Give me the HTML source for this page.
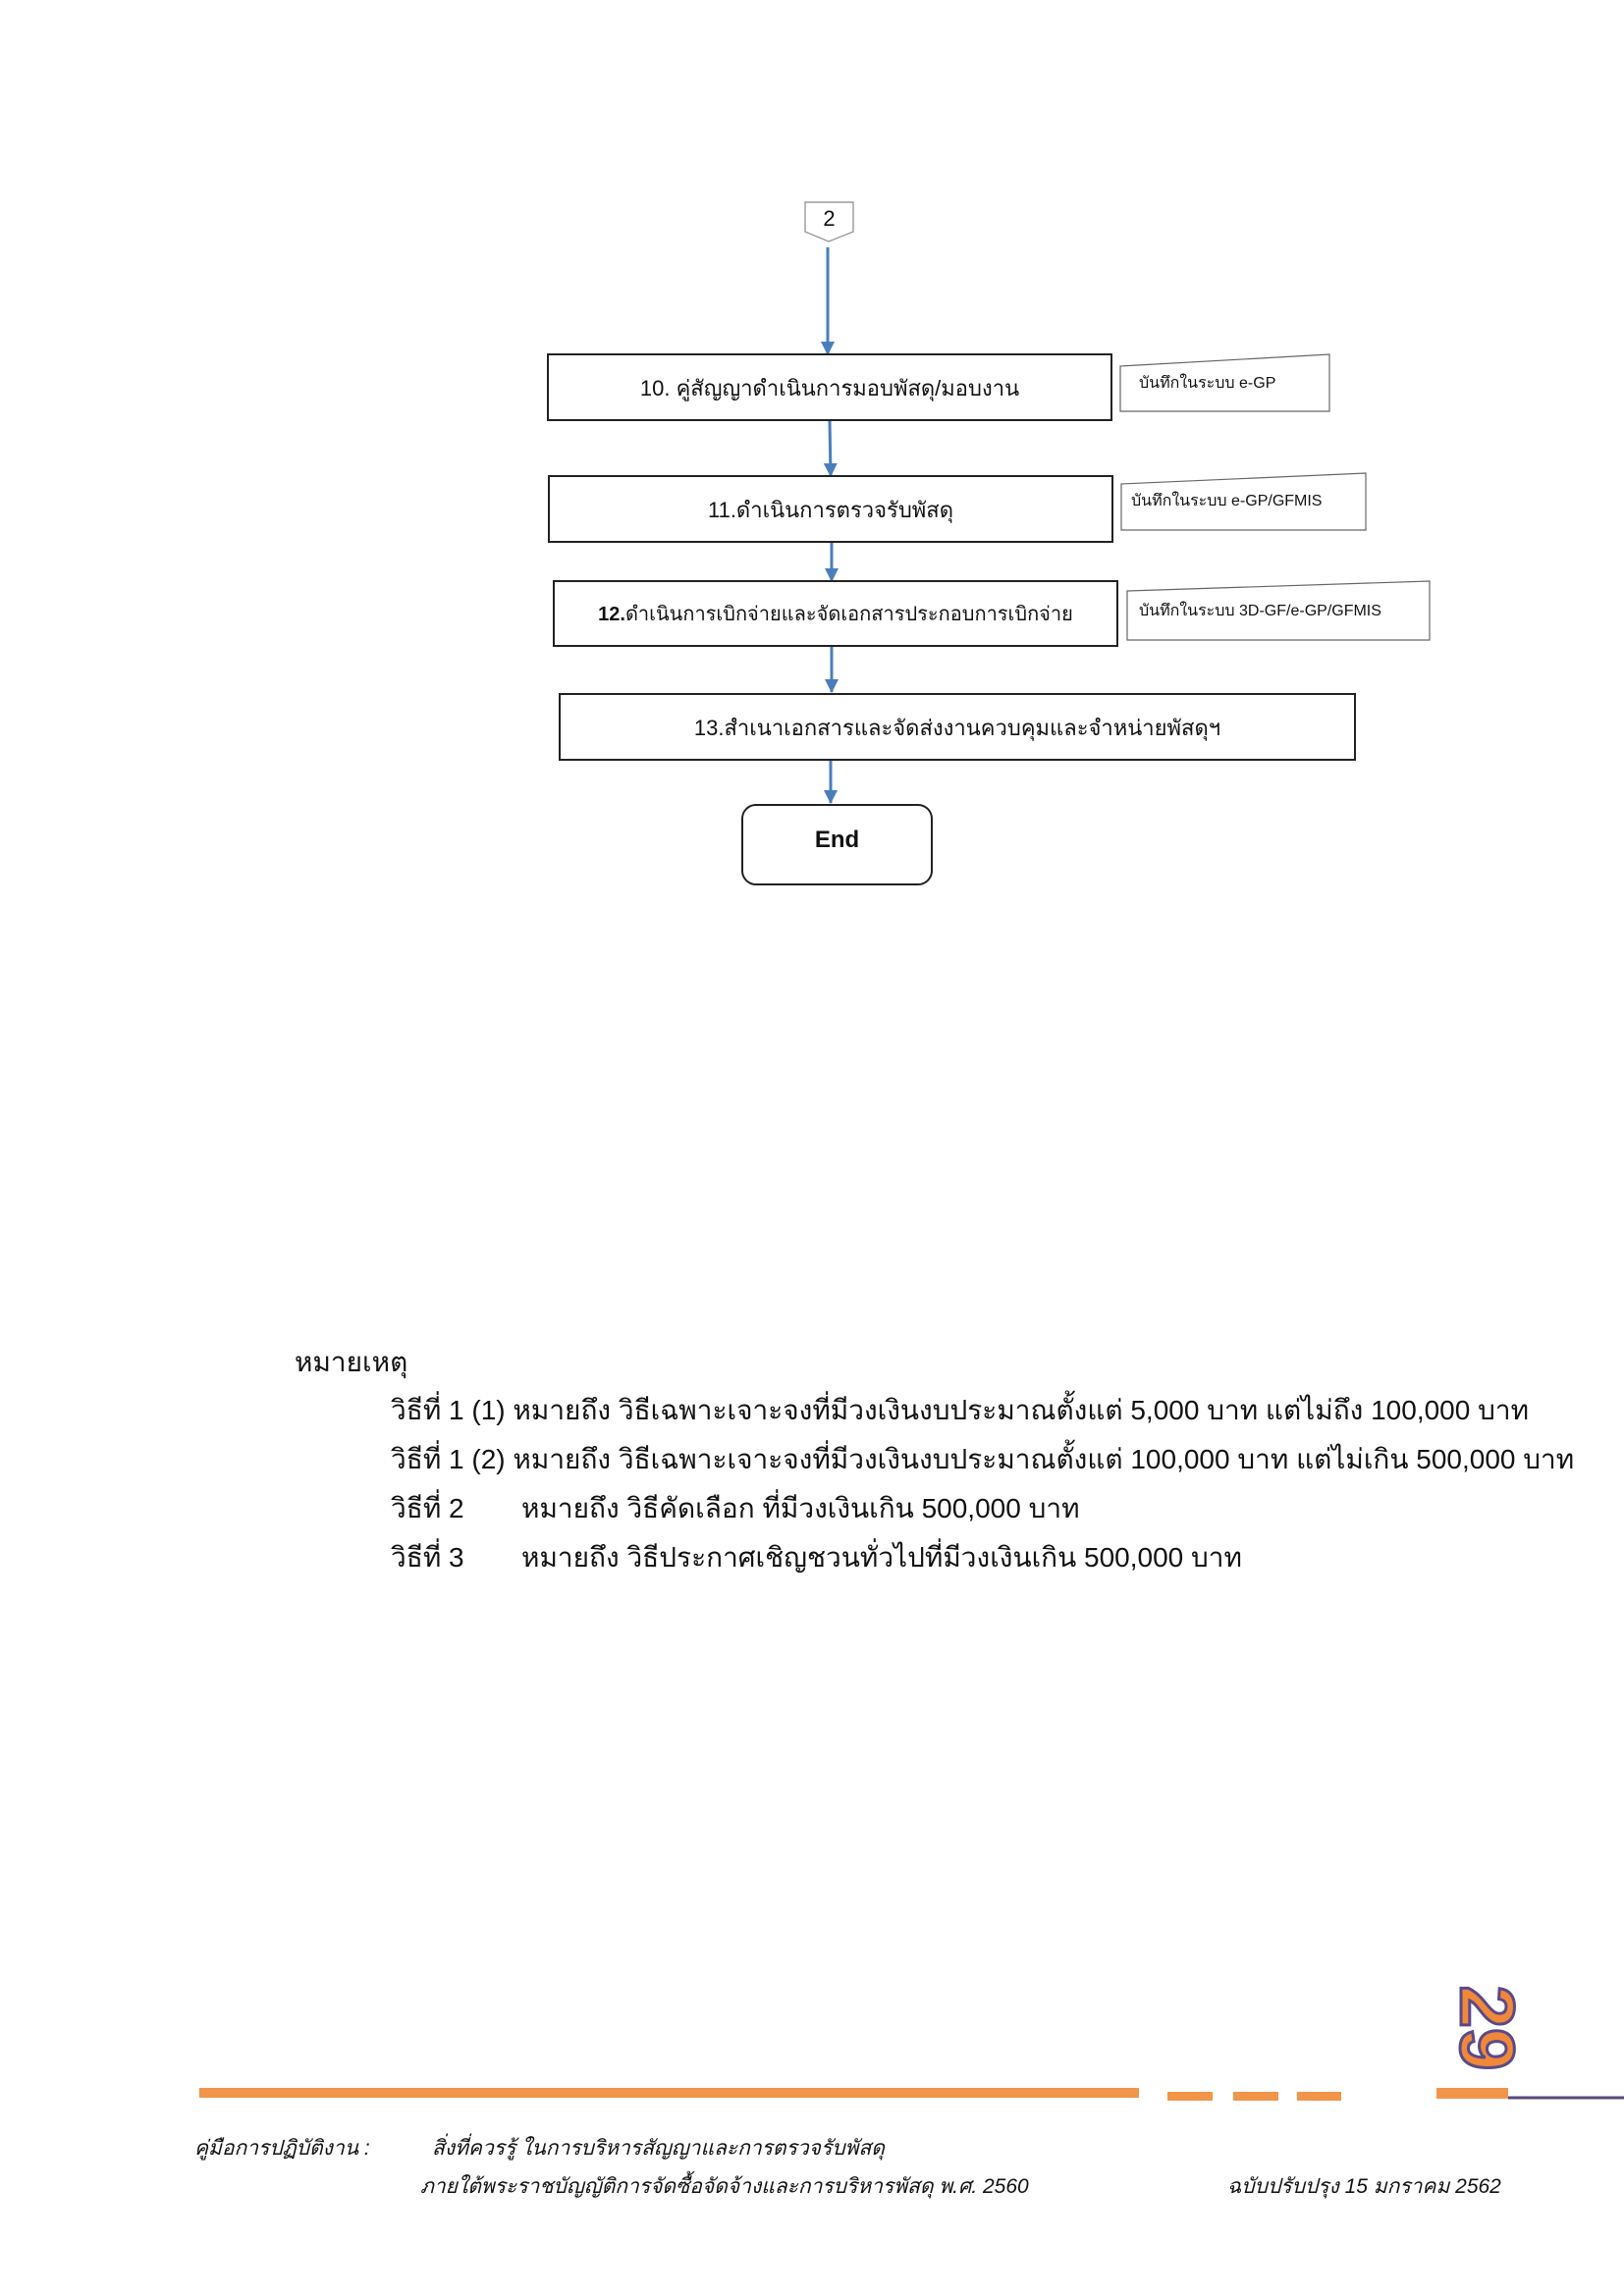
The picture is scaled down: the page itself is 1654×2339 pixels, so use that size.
<!DOCTYPE html>
<html><head><meta charset="utf-8"><style>
body{margin:0;background:#fff;}
.page{position:relative;width:1654px;height:2339px;overflow:hidden;font-family:"Liberation Sans","Noto Sans CJK SC",sans-serif;color:#111;}
.t{position:absolute;white-space:nowrap;font-family:"Liberation Sans","Noto Sans CJK SC",sans-serif;}
.f{font-style:italic;font-size:21px;}
</style></head><body><div class="page">
<svg width="1654" height="2339" style="position:absolute;left:0;top:0">
<defs><marker id="a" markerWidth="14" markerHeight="14" refX="13" refY="7" orient="auto" markerUnits="userSpaceOnUse"><path d="M0,0 L14,7 L0,14 z" fill="#4a7ebb"/></marker></defs>
<polygon points="820,206 869,206 869,236 844,246 820,236" fill="#fff" stroke="#888" stroke-width="1.2"/>
<g stroke="#4a7ebb" stroke-width="3">
<line x1="843" y1="252" x2="843" y2="361" marker-end="url(#a)"/>
<line x1="845" y1="428" x2="846" y2="485" marker-end="url(#a)"/>
<line x1="847" y1="552" x2="847" y2="592" marker-end="url(#a)"/>
<line x1="847" y1="658" x2="847" y2="705" marker-end="url(#a)"/>
<line x1="846" y1="774" x2="846" y2="818" marker-end="url(#a)"/>
</g>
<g fill="#fff" stroke="#222" stroke-width="2">
<rect x="558" y="361" width="574" height="67"/>
<rect x="559" y="485" width="574" height="67"/>
<rect x="564" y="592" width="574" height="66"/>
<rect x="570" y="707" width="810" height="67"/>
<rect x="756" y="820" width="193" height="81" rx="14"/>
</g>
<g fill="#fff" stroke="#666" stroke-width="1.2">
<polygon points="1141,373 1354,361 1354,419 1141,419"/>
<polygon points="1142,493 1391,482 1391,540 1142,540"/>
<polygon points="1148,602 1456,592 1456,652 1148,652"/>
</g>
<rect x="203" y="2127" width="957" height="10" fill="#f0954a"/>
<rect x="1189" y="2131" width="46" height="9" fill="#f0954a"/>
<rect x="1256" y="2131" width="46" height="9" fill="#f0954a"/>
<rect x="1321" y="2131" width="45" height="9" fill="#f0954a"/>
<rect x="1463" y="2127" width="73" height="11" fill="#f0954a"/>
<line x1="1536" y1="2137" x2="1654" y2="2137" stroke="#5a4a7a" stroke-width="3"/>
<text x="0" y="0" transform="translate(1515,2066) rotate(90)" text-anchor="middle" dominant-baseline="central" font-family="Liberation Sans" font-weight="bold" font-size="78" fill="#f0883a" stroke="#5a4a8a" stroke-width="3">29</text>
</svg>
<div class="t" style="left:820px;top:210px;width:49px;text-align:center;font-size:22px">2</div>
<div class="t" style="left:558px;top:378px;width:574px;text-align:center;font-size:22px">10. คู่สัญญาดำเนินการมอบพัสดุ/มอบงาน</div>
<div class="t" style="left:559px;top:502px;width:574px;text-align:center;font-size:22px">11.ดำเนินการตรวจรับพัสดุ</div>
<div class="t" style="left:564px;top:609px;width:574px;text-align:center;font-size:20px"><b>12.</b>ดำเนินการเบิกจ่ายและจัดเอกสารประกอบการเบิกจ่าย</div>
<div class="t" style="left:570px;top:724px;width:810px;text-align:center;font-size:22px">13.สำเนาเอกสารและจัดส่งงานควบคุมและจำหน่ายพัสดุฯ</div>
<div class="t" style="left:756px;top:842px;width:193px;text-align:center;font-size:24px;font-weight:bold">End</div>
<div class="t" style="left:1160px;top:378px;font-size:16px">บันทึกในระบบ e-GP</div>
<div class="t" style="left:1152px;top:498px;font-size:16px">บันทึกในระบบ e-GP/GFMIS</div>
<div class="t" style="left:1160px;top:610px;font-size:16px">บันทึกในระบบ 3D-GF/e-GP/GFMIS</div>
<div class="t" style="left:300px;top:1366px;font-size:28px">หมายเหตุ</div>
<div class="t" style="left:398px;top:1415px;font-size:28px">วิธีที่ 1 (1) หมายถึง วิธีเฉพาะเจาะจงที่มีวงเงินงบประมาณตั้งแต่ 5,000 บาท แต่ไม่ถึง 100,000 บาท</div>
<div class="t" style="left:398px;top:1465px;font-size:28px">วิธีที่ 1 (2) หมายถึง วิธีเฉพาะเจาะจงที่มีวงเงินงบประมาณตั้งแต่ 100,000 บาท แต่ไม่เกิน 500,000 บาท</div>
<div class="t" style="left:398px;top:1515px;font-size:28px">วิธีที่ 2</div>
<div class="t" style="left:531px;top:1515px;font-size:28px">หมายถึง วิธีคัดเลือก ที่มีวงเงินเกิน 500,000 บาท</div>
<div class="t" style="left:398px;top:1565px;font-size:28px">วิธีที่ 3</div>
<div class="t" style="left:531px;top:1565px;font-size:28px">หมายถึง วิธีประกาศเชิญชวนทั่วไปที่มีวงเงินเกิน 500,000 บาท</div>
<div class="t f" style="left:198px;top:2172px">คู่มือการปฏิบัติงาน :</div>
<div class="t f" style="left:440px;top:2172px">สิ่งที่ควรรู้ ในการบริหารสัญญาและการตรวจรับพัสดุ</div>
<div class="t f" style="left:428px;top:2211px">ภายใต้พระราชบัญญัติการจัดซื้อจัดจ้างและการบริหารพัสดุ พ.ศ. 2560</div>
<div class="t f" style="left:1250px;top:2211px">ฉบับปรับปรุง 15 มกราคม 2562</div>
</div></body></html>
